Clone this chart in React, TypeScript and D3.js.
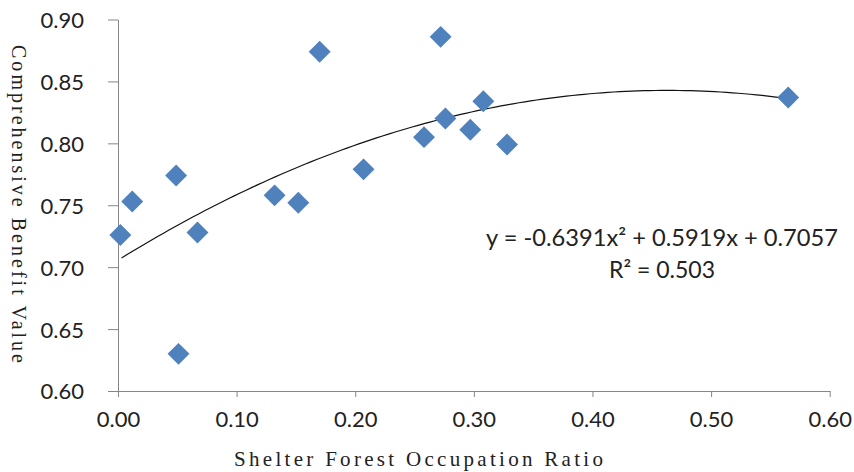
import React, { useEffect, useRef } from 'react';
import * as d3 from 'd3';

// shelter forest occupation ratio vs comprehensive benefit value
const ratio = [0.002, 0.012, 0.049, 0.051, 0.067, 0.132, 0.152, 0.170, 0.207, 0.258, 0.272, 0.276, 0.297, 0.308, 0.328, 0.565];
const benefit = [0.726, 0.753, 0.774, 0.630, 0.728, 0.758, 0.752, 0.874, 0.779, 0.805, 0.886, 0.820, 0.811, 0.834, 0.799, 0.837];

const xTicks = [0, 0.1, 0.2, 0.3, 0.4, 0.5, 0.6];
const yTicks = [0.6, 0.65, 0.7, 0.75, 0.8, 0.85, 0.9];

// trendline coefficients (2nd order polynomial)
const coef = [-0.6391, 0.5919, 0.7057];
const r2 = 0.503;

const W = 854;
const H = 472;

function App() {
  const svgRef = useRef<SVGSVGElement>(null);

  useEffect(() => {
    const svg = d3.select(svgRef.current);
    svg.selectAll('*').remove();

    const x = d3.scaleLinear().domain([0, 0.6]).range([118, 829.7]);
    const y = d3.scaleLinear().domain([0.6, 0.9]).range([391, 19.5]);
    const axisColor = '#868686';
    const tickFont = 'Lato, Carlito, "Open Sans", sans-serif';
    const titleFont = '"Liberation Serif", "DejaVu Serif", serif';

    const gx = svg.append('g')
      .attr('transform', `translate(0,${y(0.6)})`)
      .call(d3.axisBottom(x).tickValues(xTicks).tickSize(6).tickSizeOuter(0).tickFormat(d3.format('.2f')));
    gx.select('.domain').attr('stroke', axisColor);
    gx.selectAll('.tick line').attr('stroke', axisColor);
    gx.selectAll('.tick text')
      .attr('fill', '#222')
      .attr('font-family', tickFont)
      .attr('font-size', 22)
      .attr('y', 36)
      .attr('dy', 0);

    const gy = svg.append('g')
      .attr('transform', `translate(${x(0)},0)`)
      .call(d3.axisLeft(y).tickValues(yTicks).tickSize(10).tickSizeOuter(0).tickFormat(d3.format('.2f')));
    gy.select('.domain').attr('stroke', axisColor);
    gy.selectAll('.tick line').attr('stroke', axisColor);
    gy.selectAll('.tick text')
      .attr('fill', '#222')
      .attr('font-family', tickFont)
      .attr('font-size', 22)
      .attr('x', -34)
      .attr('dy', '0.36em');

    // trendline
    const fit = (v: number) => coef[0] * v * v + coef[1] * v + coef[2];
    const xs = d3.range(0.003, 0.5651, 0.005);
    svg.append('path')
      .datum(xs)
      .attr('fill', 'none')
      .attr('stroke', '#111')
      .attr('stroke-width', 1.2)
      .attr('d', d3.line<number>().x(d => x(d)).y(d => y(fit(d))));

    // markers
    const diamond = d3.symbol().type(d3.symbolSquare).size(240);
    svg.append('g')
      .selectAll('path')
      .data(d3.zip(ratio, benefit))
      .join('path')
      .attr('d', diamond)
      .attr('fill', '#4F81BD')
      .attr('transform', d => `translate(${x(d[0])},${y(d[1])}) rotate(45)`);

    // equation label
    const eq = svg.append('text')
      .attr('text-anchor', 'middle')
      .attr('font-family', tickFont)
      .attr('font-size', 23)
      .attr('fill', '#222');
    eq.append('tspan').attr('x', 662).attr('y', 246)
      .attr('textLength', 352).attr('lengthAdjust', 'spacingAndGlyphs')
      .text(`y = ${coef[0]}x² + ${coef[1]}x + ${coef[2]}`);
    eq.append('tspan').attr('x', 662).attr('y', 278)
      .text(`R² = ${r2}`);

    // axis titles
    svg.append('text')
      .attr('x', 418.5)
      .attr('y', 466)
      .attr('text-anchor', 'middle')
      .attr('font-family', titleFont)
      .attr('font-size', 21)
      .attr('fill', '#222')
      .attr('textLength', 369)
      .attr('lengthAdjust', 'spacing')
      .text('Shelter Forest Occupation Ratio');

    svg.append('text')
      .attr('transform', 'translate(12,204) rotate(90)')
      .attr('text-anchor', 'middle')
      .attr('font-family', titleFont)
      .attr('font-size', 20)
      .attr('fill', '#222')
      .attr('textLength', 318)
      .attr('lengthAdjust', 'spacing')
      .text('Comprehensive Benefit Value');
  }, []);

  return (
    <svg ref={svgRef} width={W} height={H}
      style={{ position: 'absolute', left: 0, top: 0, background: '#fff' }} />
  );
}

export default App;
